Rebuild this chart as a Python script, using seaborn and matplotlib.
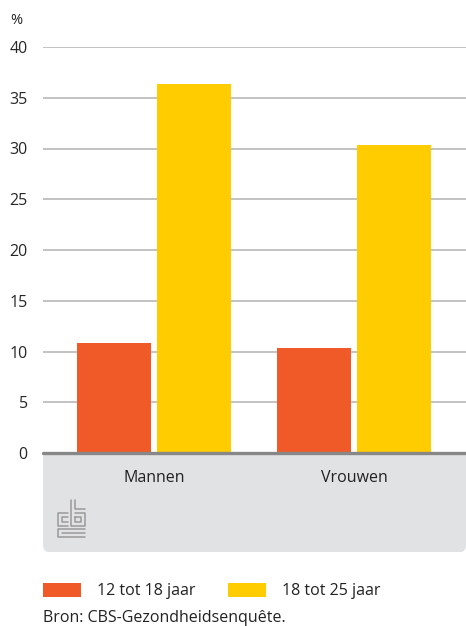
import pandas as pd
import seaborn as sns
import matplotlib.pyplot as plt
from matplotlib.patches import Rectangle, FancyBboxPatch, Patch
from matplotlib.lines import Line2D

# data
geslacht = ["Mannen", "Vrouwen"]
leeftijd = ["12 tot 18 jaar", "18 tot 25 jaar"]
waarde_12_18 = [10.8, 10.3]
waarde_18_25 = [36.4, 30.3]
yticks = [0, 5, 10, 15, 20, 25, 30, 35, 40]
bron = "Bron: CBS-Gezondheidsenquête."

kleuren = ["#f05a28", "#ffcc00"]

df = pd.DataFrame({
    "geslacht": geslacht * 2,
    "leeftijd": [leeftijd[0]] * 2 + [leeftijd[1]] * 2,
    "waarde": waarde_12_18 + waarde_18_25,
})

sns.set_style("white")
plt.rcParams["font.family"] = ["Open Sans", "DejaVu Sans"]
plt.rcParams["text.color"] = "#222222"
fs = 11.5

W, H = 466, 626
fig = plt.figure(figsize=(W / 100, H / 100), dpi=100)

def fx(px):
    return px / W

def fy(py):
    return 1 - py / H

# grijs paneel onder de as
panel = FancyBboxPatch((fx(43), fy(552)), fx(466) - fx(43), fy(453) - fy(552),
                       boxstyle="round,pad=0,rounding_size=0.012",
                       transform=fig.transFigure, fc="#e1e2e4", ec="none", zorder=-2)
fig.patches.append(panel)
fig.patches.append(Rectangle((fx(43), fy(520)), fx(466) - fx(43), fy(453) - fy(520),
                             transform=fig.transFigure, fc="#e1e2e4", ec="none", zorder=-2))

ax = fig.add_axes([fx(43), fy(453), fx(466) - fx(43), fy(47) - fy(453)])
ax.patch.set_alpha(0)

sns.barplot(data=df, x="geslacht", y="waarde", hue="leeftijd", palette=kleuren,
            width=0.8, gap=0.075, saturation=1, legend=False, ax=ax, zorder=3,
            linewidth=0, edgecolor="none")

ax.set_xlim(-0.555, 1.56)
ax.set_ylim(0, 40)
ax.set_yticks(yticks)
ax.set_yticklabels([str(t) for t in yticks], fontsize=fs)
ax.set_xlabel("")
ax.set_ylabel("")
ax.tick_params(axis="y", length=0, pad=11)
ax.tick_params(axis="x", length=0, pad=12, labelsize=fs, labelcolor="#222222")
ax.grid(axis="y", color="#bdbdbd", linewidth=1.3, zorder=0)
for s in ax.spines.values():
    s.set_visible(False)
ax.axhline(0, color="#878787", linewidth=2.4, zorder=5, clip_on=False)

fig.text(fx(10), fy(20), "%", fontsize=10.5, va="center", ha="left")

# cbs-logo
logo = [
    [(68, 513), (58, 513), (58, 526), (68, 526)],
    [(68, 517), (62, 517), (62, 522), (68, 522)],
    [(71, 500), (71, 526), (85, 526), (85, 513), (75, 513)],
    [(75, 500), (75, 509), (85, 509)],
    [(75, 517), (81, 517), (81, 522), (75, 522), (75, 517)],
    [(85, 529), (58, 529), (58, 537), (85, 537)],
    [(62, 533), (85, 533)],
]
for pts in logo:
    xs = [fx(p[0]) for p in pts]
    ys = [fy(p[1]) for p in pts]
    fig.add_artist(Line2D(xs, ys, transform=fig.transFigure, color="#9a9a9a", lw=1.1))

handles = [Patch(fc=k, ec="none") for k in kleuren]
fig.legend(handles, leeftijd, loc="center left", bbox_to_anchor=(fx(43), fy(591)),
           ncol=2, frameon=False, fontsize=fs, handlelength=2.4, handleheight=1.0,
           handletextpad=1.0, columnspacing=2.0, borderpad=0, borderaxespad=0)

fig.text(fx(43), fy(618), bron, fontsize=fs, va="center", ha="left")

fig.savefig("out.png", dpi=100)
